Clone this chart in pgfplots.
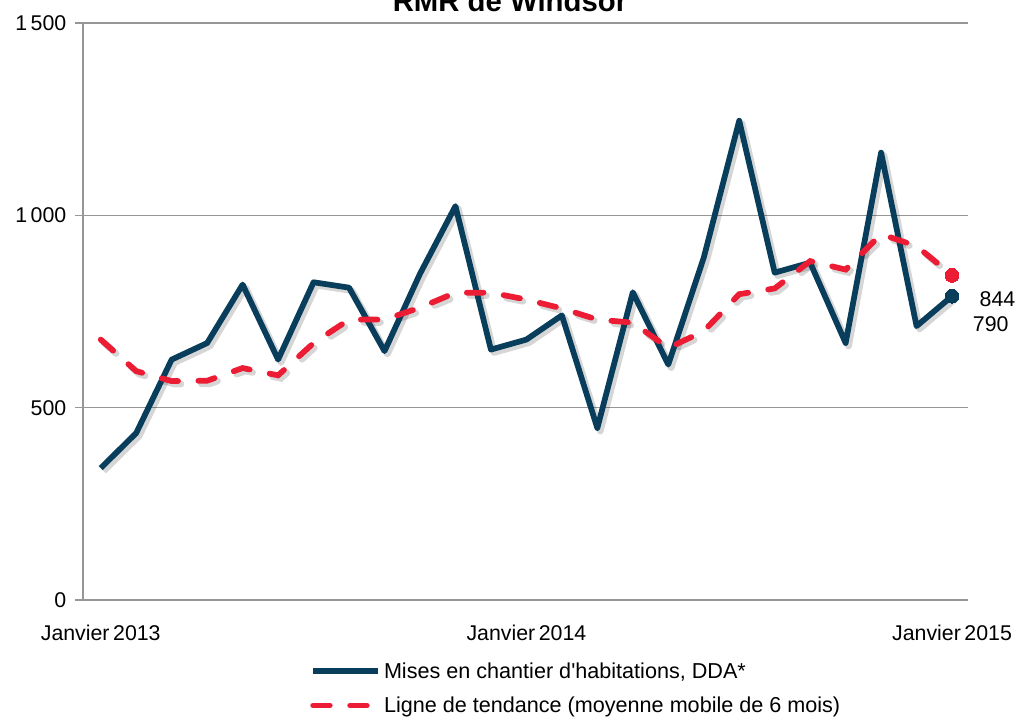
\documentclass[border=0pt]{standalone}
\usepackage{pgfplots}
\pgfplotsset{compat=1.18}
\usepackage{fontspec}
\setmainfont{Liberation Sans}
\definecolor{darkblue}{RGB}{8,62,92}
\definecolor{trendred}{RGB}{236,28,52}
\definecolor{gridgray}{RGB}{150,150,150}
\begin{document}
\begin{tikzpicture}
\begin{axis}[
  scale only axis,
  width=663.75pt, height=432.75pt,
  at={(0,0)}, anchor=south west,
  xmin=-0.5, xmax=24.45,
  ymin=0, ymax=1500,
  axis x line=bottom, axis y line=left,
  axis line style={gridgray, line width=1.1pt, -},
  xtick={0,12,24},
  xticklabels={Janvier\,2013,Janvier\,2014,Janvier\,2015},
  major x tick style={draw=none},
  ytick={0,500,1000,1500},
  yticklabels={0,500,1\,000,1\,500},
  tick align=outside,
  major tick length=6pt,
  major y tick style={gridgray, line width=1.1pt},
  ymajorgrids,
  grid style={gridgray, line width=1.1pt},
  tick label style={font=\fontsize{16}{19}\selectfont},
  yticklabel style={xshift=-3pt},
  xticklabel style={yshift=-9pt},
  legend style={draw=none, fill=none, at={(0.2565,-0.103)}, anchor=north west,
    font=\fontsize{16.2}{19}\selectfont, row sep=8.5pt, inner sep=0pt,
    /tikz/every even column/.append style={column sep=3pt}},
  legend cell align=left,
  legend image code/.code={\draw[#1] (1pt,0pt) -- (50pt,0pt);},
  clip=false,
]
% shadows
\addplot[forget plot, black, opacity=0.16, line width=5pt, line join=round, xshift=2.2pt, yshift=-2.2pt] coordinates {
(0,343)(1,434)(2,625)(3,668)(4,820)(5,625)(6,826)(7,812)(8,647)(9,848)(10,1024)(11,651)(12,677)(13,740)(14,447)(15,800)(16,612)(17,890)(18,1246)(19,851)(20,877)(21,668)(22,1163)(23,712)(24,790)};
\addplot[forget plot, black, opacity=0.16, line width=5pt, line cap=round, dash pattern=on 12.5pt off 15.25pt, xshift=2.2pt, yshift=-2.2pt] coordinates {
(0,677)(1,595)(2,569)(3,570)(4,603)(5,584)(6,668)(7,729)(8,729)(9,760)(10,799)(11,799)(12,781)(13,758)(14,729)(15,721)(16,655)(17,699)(18,795)(19,810)(20,881)(21,859)(22,951)(23,920)(24,844)};
% main series
\addplot[darkblue, line width=4.3pt, line join=round, mark=*, mark indices={25}, mark size=5.2pt, mark options={solid, fill=darkblue, line width=0pt}] coordinates {
(0,343)(1,434)(2,625)(3,668)(4,820)(5,625)(6,826)(7,812)(8,647)(9,848)(10,1024)(11,651)(12,677)(13,740)(14,447)(15,800)(16,612)(17,890)(18,1246)(19,851)(20,877)(21,668)(22,1163)(23,712)(24,790)};
\addlegendentry{Mises en chantier d\textquotesingle habitations, DDA*}
\addplot[trendred, line width=4.3pt, line cap=round, dash pattern=on 12.5pt off 15.25pt, mark=*, mark indices={25}, mark size=5.2pt, mark options={solid, fill=trendred, line width=0pt}] coordinates {
(0,677)(1,595)(2,569)(3,570)(4,603)(5,584)(6,668)(7,729)(8,729)(9,760)(10,799)(11,799)(12,781)(13,758)(14,729)(15,721)(16,655)(17,699)(18,795)(19,810)(20,881)(21,859)(22,951)(23,920)(24,844)};
\addlegendentry{Ligne de tendance (moyenne mobile de 6 mois)}
\node[anchor=west, font=\fontsize{16}{19}\selectfont, inner sep=0pt] at (axis cs:24,781) [xshift=20.5pt] {844};
\node[anchor=west, font=\fontsize{16}{19}\selectfont, inner sep=0pt] at (axis cs:24,716) [xshift=15.5pt] {790};
\end{axis}
\node[anchor=base, font=\fontsize{22}{26}\selectfont\bfseries, inner sep=0pt] at (320.25pt, 441pt) {RMR de Windsor};
\pgfresetboundingbox
\path[use as bounding box] (-62.25pt,-93.75pt) rectangle (699.75pt,450pt);
\end{tikzpicture}
\end{document}
